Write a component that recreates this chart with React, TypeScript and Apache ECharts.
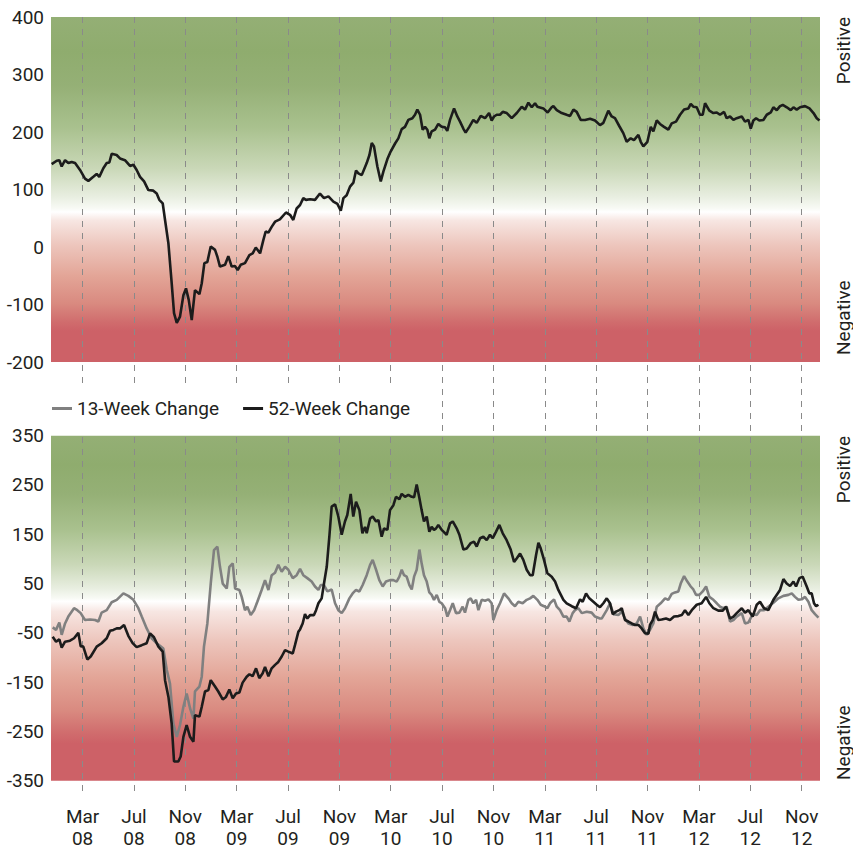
import React, { useEffect, useRef } from "react";
import * as echarts from "echarts";

// x values are months since 1 Nov 2007 (Mar 08 = 4, Jul 08 = 8, ... Nov 12 = 60)
const xTickLabels = [
  "Mar\n08", "Jul\n08", "Nov\n08", "Mar\n09", "Jul\n09", "Nov\n09", "Mar\n10", "Jul\n10",
  "Nov\n10", "Mar\n11", "Jul\n11", "Nov\n11", "Mar\n12", "Jul\n12", "Nov\n12",
];

const topTicks = { min: -200, max: 400, interval: 100 };
const bottomTicks = { min: -350, max: 350, interval: 100 };

const top52Week: [number, number][] = [
  [1.57,144],[1.96,150],[2.16,151],[2.34,140],[2.6,151],[2.85,146],[3.11,148],[3.37,146],[3.75,134],[4.13,119],[4.39,115],[4.77,122],[5.03,127],[5.23,122],[5.54,137],[5.8,146],[6.0,147],[6.18,162],[6.56,160],[6.82,154],[7.2,151],[7.59,141],[7.85,143],[8.1,134],[8.36,122],[8.67,114],[9.0,99],[9.38,98],[9.64,93],[9.84,82],[10.1,76],[10.28,47],[10.54,6],[10.79,-63],[10.97,-115],[11.18,-132],[11.43,-121],[11.69,-84],[11.89,-72],[12.1,-92],[12.33,-127],[12.58,-75],[12.92,-82],[13.1,-63],[13.3,-28],[13.53,-26],[13.79,1],[14.12,-5],[14.3,-17],[14.5,-34],[14.89,-31],[15.14,-16],[15.4,-34],[15.65,-33],[15.86,-40],[16.09,-31],[16.42,-28],[16.76,-14],[17.01,-11],[17.25,-1],[17.58,-11],[17.83,12],[18.01,27],[18.22,25],[18.47,35],[18.73,44],[19.1,48],[19.57,60],[19.88,56],[20.13,47],[20.39,67],[20.65,73],
  [20.9,85],[21.11,82],[21.42,83],[21.8,82],[22.18,93],[22.49,85],[22.83,88],[23.21,79],[23.52,75],[23.78,63],[23.98,85],[24.23,90],[24.49,105],[24.75,112],[24.95,133],[25.13,128],[25.39,125],[25.77,146],[25.98,160],[26.16,181],[26.33,175],[26.59,140],[26.85,114],[27.05,131],[27.36,153],[27.61,166],[27.95,180],[28.2,189],[28.46,205],[28.71,209],[28.97,221],[29.28,224],[29.48,230],[29.66,239],[29.87,230],[30.07,204],[30.25,209],[30.43,204],[30.58,189],[30.76,201],[31.02,204],[31.27,214],[31.53,209],[31.79,208],[31.96,202],[32.17,221],[32.48,241],[32.73,227],[32.94,218],[33.19,206],[33.37,199],[33.65,209],[33.96,221],[34.22,216],[34.53,228],[34.86,224],[35.17,233],[35.37,220],[35.55,227],[35.76,230],[36.01,230],[36.22,235],[36.53,233],[36.91,224],[37.3,233],[37.68,244],[37.93,239],[38.19,251],[38.45,243],[38.7,250],[38.88,244],[39.34,241],[39.67,234],[39.98,243],[40.11,245],[40.37,238],[40.75,233],[41.13,230],[41.39,228],[41.65,239],[41.9,235],[42.21,221],[42.54,221],[42.93,223],[43.31,220],[43.69,212],
  [43.95,216],[44.33,237],[44.59,227],[44.84,224],[45.18,210],[45.48,198],[45.74,183],[46.05,189],[46.3,186],[46.64,195],[46.82,183],[47.02,175],[47.33,183],[47.59,209],[47.79,201],[48.05,220],[48.3,214],[48.61,209],[48.94,204],[49.2,215],[49.53,218],[49.84,230],[50.15,239],[50.48,241],[50.66,249],[50.86,244],[51.12,243],[51.37,230],[51.58,230],[51.76,250],[52.09,237],[52.4,233],[52.66,234],[52.91,230],[53.22,235],[53.42,224],[53.68,227],[53.94,221],[54.19,224],[54.58,227],[54.83,218],[55.09,221],[55.27,206],[55.47,220],[55.68,224],[55.93,220],[56.24,221],[56.5,230],[56.81,234],[57.01,243],[57.27,238],[57.52,245],[57.73,247],[58.04,243],[58.34,238],[58.55,243],[58.8,239],[59.06,243],[59.44,245],[59.78,241],[60.09,233],[60.34,224],[60.55,220],
];

const change13Week: [number, number][] = [
  [1.65,-39],[1.91,-44],[2.16,-29],[2.34,-54],[2.6,-31],[2.85,-17],[3.29,0],[3.54,-4],[3.8,-10],[4.13,-24],[4.52,-23],[4.9,-24],[5.16,-27],[5.41,-9],[5.8,-4],[6.18,12],[6.57,17],[7.08,30],[7.46,25],[7.85,17],[8.23,0],[8.49,-17],[8.87,-41],[9.25,-61],[9.64,-71],[10.15,-82],[10.41,-125],[10.66,-153],[10.92,-234],[11.18,-261],[11.43,-237],[11.69,-200],[11.94,-173],[12.2,-203],[12.46,-224],[12.58,-169],[12.92,-159],[13.1,-139],[13.27,-78],[13.53,-31],[13.79,50],[14.04,118],[14.3,125],[14.5,84],[14.71,50],[15.02,40],[15.22,84],[15.48,91],[15.66,40],[15.99,37],[16.17,23],[16.42,-4],[16.6,3],[16.86,-14],[17.12,-4],[17.37,13],[17.7,37],[17.96,57],[18.22,37],[18.47,67],[18.73,72],[18.98,88],[19.24,74],[19.5,84],[19.75,78],[20.09,61],[20.39,67],[20.65,80],
  [20.9,67],[21.21,61],[21.54,54],[21.8,44],[22.06,37],[22.24,47],[22.49,47],[22.75,34],[23.08,38],[23.34,10],[23.59,-4],[23.85,-10],[24.1,0],[24.44,20],[24.69,30],[24.95,37],[25.21,34],[25.46,47],[25.77,67],[26.03,88],[26.23,98],[26.49,78],[26.74,57],[27.0,44],[27.25,54],[27.56,57],[27.82,57],[28.07,54],[28.28,64],[28.46,78],[28.64,67],[28.84,64],[29.05,47],[29.23,38],[29.41,64],[29.61,78],[29.82,119],[29.99,91],[30.17,67],[30.38,54],[30.58,32],[30.76,27],[30.94,17],[31.15,27],[31.35,13],[31.53,10],[31.79,0],[31.97,-17],[32.17,-4],[32.38,10],[32.63,-10],[32.89,-9],[33.14,3],[33.32,-9],[33.58,17],[33.76,20],[33.96,10],[34.17,17],[34.35,-4],[34.6,17],[34.86,15],[35.12,18],[35.37,10],[35.5,-24],[35.76,-4],[36.01,10],[36.32,30],[36.65,20],[36.91,10],[37.16,4],[37.42,13],[37.75,10],[38.06,17],[38.32,20],[38.57,25],[38.88,17],[39.14,7],[39.39,4],[39.65,0],[39.85,10],[40.16,18],[40.37,3],[40.62,-4],[40.88,-17],[41.13,-17],[41.34,-27],[41.59,-10],[41.77,-4],[42.03,0],[42.29,-10],[42.67,-7],[43.05,-9],[43.31,-17],[43.69,-21],
  [43.82,-21],[44.21,-4],[44.46,10],[44.72,-12],[45.1,-14],[45.36,-7],[45.61,-21],[45.87,-31],[46.2,-34],[46.51,-31],[46.77,-17],[47.02,-41],[47.28,-54],[47.53,-44],[47.79,-31],[48.05,3],[48.35,10],[48.69,20],[48.94,17],[49.2,29],[49.45,32],[49.71,34],[49.89,50],[50.15,65],[50.4,54],[50.66,44],[50.86,38],[51.07,27],[51.32,27],[51.58,34],[51.84,44],[52.09,23],[52.4,17],[52.66,10],[52.91,3],[53.17,0],[53.42,3],[53.68,-27],[53.94,-24],[54.19,-17],[54.58,-10],[54.83,-31],[55.09,-29],[55.42,-12],[55.73,-14],[55.98,-4],[56.29,-4],[56.62,3],[57.01,11],[57.39,20],[57.78,25],[58.16,27],[58.42,30],[58.67,23],[58.93,17],[59.18,18],[59.44,23],[59.7,13],[59.95,-4],[60.21,-12],[60.47,-19],
];

const change52Week: [number, number][] = [
  [1.65,-58],[1.91,-68],[2.16,-63],[2.34,-80],[2.6,-68],[2.98,-66],[3.29,-61],[3.62,-50],[3.8,-77],[4.0,-78],[4.31,-104],[4.57,-98],[5.03,-78],[5.41,-71],[5.8,-61],[6.05,-46],[6.31,-44],[6.57,-41],[6.82,-41],[7.13,-34],[7.46,-56],[7.79,-71],[8.1,-79],[8.49,-75],[8.87,-71],[9.13,-51],[9.43,-59],[9.77,-78],[10.1,-88],[10.28,-146],[10.54,-180],[10.79,-234],[10.97,-311],[11.3,-311],[11.48,-301],[11.69,-261],[11.94,-237],[12.2,-261],[12.46,-271],[12.58,-217],[12.92,-220],[13.1,-200],[13.35,-169],[13.61,-166],[13.79,-146],[14.12,-159],[14.37,-169],[14.71,-185],[14.96,-180],[15.22,-165],[15.48,-183],[15.73,-173],[15.99,-171],[16.24,-151],[16.55,-139],[16.76,-134],[17.01,-138],[17.27,-122],[17.52,-142],[17.78,-132],[17.96,-119],[18.22,-138],[18.47,-122],[18.73,-115],[18.98,-109],[19.24,-98],[19.5,-85],[19.75,-88],[20.09,-92],[20.26,-75],[20.52,-48],[20.65,-43],
  [20.85,-31],[21.03,-12],[21.21,-21],[21.42,-14],[21.72,-14],[21.88,-4],[22.06,10],[22.31,20],[22.49,50],[22.7,84],[22.9,145],[23.08,206],[23.34,211],[23.59,186],[23.85,149],[24.1,176],[24.28,189],[24.54,232],[24.74,186],[24.95,216],[25.21,199],[25.44,152],[25.64,165],[25.77,152],[26.03,182],[26.23,186],[26.49,176],[26.67,179],[26.92,145],[27.1,162],[27.36,159],[27.56,199],[27.82,209],[28.02,226],[28.28,221],[28.46,232],[28.71,226],[28.97,230],[29.23,226],[29.41,225],[29.61,251],[29.82,223],[29.99,199],[30.17,176],[30.38,186],[30.58,155],[30.76,165],[30.94,159],[31.1,162],[31.27,169],[31.53,159],[31.91,149],[32.17,172],[32.38,176],[32.68,162],[32.89,149],[33.2,119],[33.45,121],[33.76,132],[34.01,135],[34.22,125],[34.48,142],[34.73,145],[34.99,138],[35.24,149],[35.45,142],[35.7,155],[35.96,169],[36.22,152],[36.52,138],[36.83,119],[37.09,94],[37.29,101],[37.55,111],[37.8,98],[38.06,78],[38.32,67],[38.52,67],[38.78,108],[38.96,133],[39.14,121],[39.39,98],[39.65,71],[39.98,64],[40.24,54],[40.49,37],[40.88,17],[41.13,10],[41.52,4],[41.85,0],[42.16,18],[42.36,13],[42.62,30],[42.87,20],[43.18,13],[43.44,7],[43.69,2],
  [43.95,10],[44.21,20],[44.46,10],[44.67,-12],[44.92,-7],[45.18,-4],[45.36,0],[45.61,-24],[45.87,-27],[46.13,-31],[46.38,-34],[46.64,-34],[46.89,-41],[47.15,-51],[47.41,-52],[47.53,-34],[47.74,-24],[47.92,-7],[48.17,-24],[48.43,-23],[48.76,-21],[49.07,-24],[49.38,-17],[49.71,-16],[49.97,-14],[50.22,-4],[50.48,-14],[50.74,-4],[51.12,7],[51.5,10],[51.84,23],[52.09,10],[52.4,0],[52.78,-5],[53.12,-5],[53.37,3],[53.68,-21],[53.94,-17],[54.19,-10],[54.58,0],[54.83,-9],[55.09,-4],[55.42,-17],[55.73,7],[55.98,13],[56.29,0],[56.62,-4],[57.01,17],[57.52,37],[57.78,59],[58.03,50],[58.29,45],[58.55,54],[58.75,44],[59.01,61],[59.26,64],[59.57,44],[59.77,30],[59.95,30],[60.13,10],[60.29,4],[60.47,7],
];

const FONT = "Roboto, 'Noto Sans', 'DejaVu Sans', sans-serif";
const TEXT = "#231f20";
const FS = 19;

// gradient stops defined relative to a white point at 0.565
const baseStops: [number, string][] = [
  [0, "#94af75"], [0.1, "#8fac6e"], [0.2, "#95b076"], [0.32, "#a9c18e"], [0.44, "#cad8b8"],
  [0.52, "#e8eee0"], [0.555, "#f8faf5"], [0.565, "#ffffff"], [0.59, "#f7e6e2"], [0.66, "#edc6bd"],
  [0.75, "#e3a597"], [0.83, "#d98a80"], [0.885, "#d06c6d"], [0.91, "#cd6167"], [1, "#cd6167"],
];
function bg(white: number) {
  const W = 0.565;
  const stops = baseStops.map(([p, c]) => ({
    offset: p <= W ? (p * white) / W : white + ((p - W) * (1 - white)) / (1 - W),
    color: c,
  }));
  return new echarts.graphic.LinearGradient(0, 0, 0, 1, stops);
}

export default function App() {
  const ref = useRef<HTMLDivElement>(null);
  useEffect(() => {
    if (!ref.current) return;
    const chart = echarts.init(ref.current, undefined, { renderer: "svg" });
    const xMin = 1.52;
    const xMax = 60.59;
    const yLabel = { fontSize: FS, color: TEXT, fontFamily: FONT, margin: 7 };
    const hiddenX = (gi: number) => ({
      gridIndex: gi, type: "value", min: xMin, max: xMax, show: false,
      splitLine: { show: false },
    });
    const sideText = (text: string, y: number, align: string) => ({
      type: "text", x: 843, y, rotation: Math.PI / 2,
      style: { text, fontSize: FS, fontFamily: FONT, fill: TEXT, align, verticalAlign: "middle" },
    });
    chart.setOption({
      animation: false,
      backgroundColor: "#ffffff",
      grid: [
        { left: 51, width: 769, top: 17, height: 345, show: true, backgroundColor: bg(0.565), borderWidth: 0 },
        { left: 51, width: 769, top: 435.7, height: 345, show: true, backgroundColor: bg(0.48), borderWidth: 0 },
        { left: 31.2, width: 833.2, top: 17, height: 784, show: false },
      ],
      xAxis: [
        hiddenX(0),
        hiddenX(1),
        {
          gridIndex: 2, type: "value", min: 0, max: 64, interval: 4,
          axisLine: { show: false }, axisTick: { show: false },
          axisLabel: {
            showMinLabel: false, showMaxLabel: false,
            formatter: (v: number) => xTickLabels[Math.round(v / 4) - 1] ?? "",
            fontSize: FS, lineHeight: 22, color: TEXT, fontFamily: FONT, margin: 10,
          },
          splitLine: {
            show: true, showMinLine: false, showMaxLine: false,
            lineStyle: { color: "#8a8a8a", width: 1, type: [6, 6] },
          },
        },
      ],
      yAxis: [
        {
          gridIndex: 0, type: "value", ...topTicks,
          axisLine: { show: false }, axisTick: { show: false }, splitLine: { show: false },
          axisLabel: yLabel,
        },
        {
          gridIndex: 1, type: "value", ...bottomTicks,
          axisLine: { show: false }, axisTick: { show: false }, splitLine: { show: false },
          axisLabel: yLabel,
        },
        { gridIndex: 2, type: "value", min: 0, max: 1, show: false, splitLine: { show: false } },
      ],
      legend: {
        data: [
          { name: "13-Week Change", icon: "rect" },
          { name: "52-Week Change", icon: "rect" },
        ],
        left: 51, top: 383,
        padding: [16, 14, 14, 1],
        itemWidth: 20, itemHeight: 3, itemGap: 24,
        backgroundColor: "#ffffff",
        textStyle: { fontSize: FS, color: TEXT, fontFamily: FONT, padding: [0, 0, 0, 0] },
      },
      series: [
        {
          type: "line", name: "52-Week Index", xAxisIndex: 0, yAxisIndex: 0, data: top52Week,
          symbol: "none", showSymbol: false, z: 3,
          lineStyle: { color: "#1c1c1c", width: 2.6 }, itemStyle: { color: "#1c1c1c" },
        },
        {
          type: "line", name: "13-Week Change", xAxisIndex: 1, yAxisIndex: 1, data: change13Week,
          symbol: "none", showSymbol: false, z: 3,
          lineStyle: { color: "#808080", width: 2.6 }, itemStyle: { color: "#808080" },
        },
        {
          type: "line", name: "52-Week Change", xAxisIndex: 1, yAxisIndex: 1, data: change52Week,
          symbol: "none", showSymbol: false, z: 4,
          lineStyle: { color: "#1c1c1c", width: 2.6 }, itemStyle: { color: "#1c1c1c" },
        },
      ],
      graphic: [
        sideText("Positive", 17, "right"),
        sideText("Negative", 355, "left"),
        sideText("Positive", 436, "right"),
        sideText("Negative", 780, "left"),
      ],
    });
    return () => chart.dispose();
  }, []);
  return (
    <div
      ref={ref}
      style={{ position: "absolute", left: 0, top: 0, width: 853, height: 849 }}
    />
  );
}
